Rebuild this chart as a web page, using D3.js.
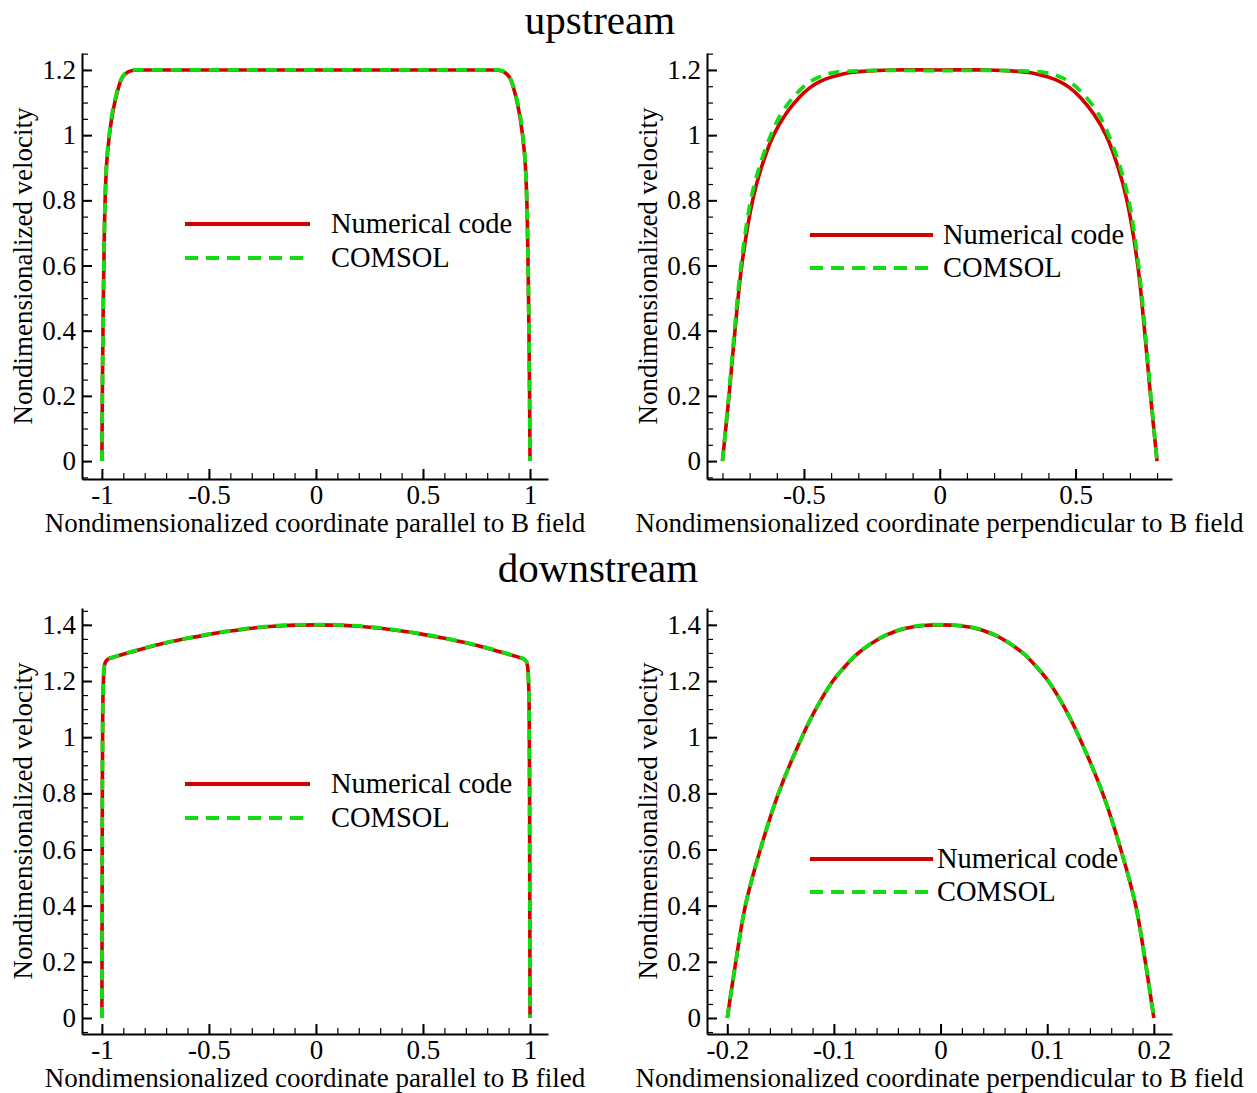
<!DOCTYPE html>
<html>
<head>
<meta charset="utf-8">
<script src="https://cdn.jsdelivr.net/npm/d3@7"></script>
<style>
    body { margin: 0; background: #fff; }
    svg text { font-family: "Liberation Serif", "Times New Roman", serif; fill: #000; }
</style>
</head>
<body>
<svg id="chart" width="1257" height="1093"></svg>
<script>
// upstream, coordinate parallel to B field  [x, velocity]
var upParNumerical = [
    [-1, 0], [-0.998, 0.2], [-0.995, 0.4], [-0.991, 0.6], [-0.985, 0.8], [-0.977, 0.92],
    [-0.965, 1.0], [-0.952, 1.06], [-0.94, 1.1], [-0.925, 1.14], [-0.91, 1.17], [-0.895, 1.185],
    [-0.875, 1.195], [-0.85, 1.199], [-0.8, 1.2], [-0.5, 1.2], [0, 1.2], [0.5, 1.2],
    [0.8, 1.2], [0.85, 1.199], [0.875, 1.195], [0.895, 1.185], [0.91, 1.17], [0.925, 1.14],
    [0.94, 1.1], [0.952, 1.06], [0.965, 1.0], [0.977, 0.92], [0.985, 0.8], [0.991, 0.6],
    [0.995, 0.4], [0.998, 0.2], [1, 0]
]
var upParComsol = [
    [-1, 0], [-0.998, 0.2], [-0.995, 0.4], [-0.991, 0.6], [-0.985, 0.8], [-0.977, 0.925],
    [-0.966, 1.0], [-0.953, 1.065], [-0.94, 1.105], [-0.925, 1.145], [-0.91, 1.172], [-0.895, 1.187],
    [-0.875, 1.196], [-0.85, 1.2], [-0.8, 1.2], [-0.5, 1.2], [0, 1.2], [0.5, 1.2],
    [0.8, 1.2], [0.85, 1.2], [0.875, 1.196], [0.895, 1.187], [0.91, 1.172], [0.925, 1.145],
    [0.94, 1.105], [0.953, 1.065], [0.966, 1.0], [0.977, 0.925], [0.985, 0.8], [0.991, 0.6],
    [0.995, 0.4], [0.998, 0.2], [1, 0]
]

// upstream, coordinate perpendicular to B field
var upPerpNumerical = [
    [-0.8, 0], [-0.776, 0.2], [-0.754, 0.4], [-0.729, 0.6], [-0.689, 0.8], [-0.657, 0.9],
    [-0.612, 1.0], [-0.565, 1.067], [-0.516, 1.117], [-0.479, 1.145], [-0.44, 1.165], [-0.4, 1.178],
    [-0.36, 1.187], [-0.32, 1.193], [-0.28, 1.196], [-0.24, 1.198], [-0.18, 1.2], [0, 1.2],
    [0.18, 1.2], [0.24, 1.198], [0.28, 1.196], [0.32, 1.193], [0.36, 1.187], [0.4, 1.178],
    [0.44, 1.165], [0.479, 1.145], [0.516, 1.117], [0.565, 1.067], [0.612, 1.0], [0.657, 0.9],
    [0.689, 0.8], [0.729, 0.6], [0.754, 0.4], [0.776, 0.2], [0.8, 0]
]
var upPerpComsol = [
    [-0.8, 0], [-0.777, 0.2], [-0.756, 0.4], [-0.732, 0.6], [-0.696, 0.8], [-0.665, 0.9],
    [-0.622, 1.0], [-0.583, 1.067], [-0.53, 1.125], [-0.479, 1.163], [-0.43, 1.183], [-0.39, 1.192],
    [-0.3, 1.197], [-0.2, 1.199], [0, 1.198], [0.2, 1.199], [0.3, 1.197], [0.39, 1.192],
    [0.43, 1.183], [0.479, 1.163], [0.53, 1.125], [0.583, 1.067], [0.622, 1.0], [0.665, 0.9],
    [0.696, 0.8], [0.732, 0.6], [0.756, 0.4], [0.777, 0.2], [0.8, 0]
]

// downstream, coordinate parallel to B field
var downParNumerical = [
    [-1, 0], [-0.999, 0.4], [-0.998, 0.8], [-0.996, 1.1], [-0.993, 1.2], [-0.989, 1.25],
    [-0.983, 1.268], [-0.97, 1.278], [-0.95, 1.284], [-0.9, 1.295], [-0.8, 1.317], [-0.7, 1.336],
    [-0.6, 1.352], [-0.5, 1.366], [-0.4, 1.378], [-0.3, 1.388], [-0.2, 1.395], [-0.1, 1.399],
    [0, 1.4], [0.1, 1.399], [0.2, 1.395], [0.3, 1.388], [0.4, 1.378], [0.5, 1.366],
    [0.6, 1.352], [0.7, 1.336], [0.8, 1.317], [0.9, 1.295], [0.95, 1.284], [0.97, 1.278],
    [0.983, 1.268], [0.989, 1.25], [0.993, 1.2], [0.996, 1.1], [0.998, 0.8], [0.999, 0.4], [1, 0]
]
var downParComsol = [
    [-1, 0], [-0.999, 0.4], [-0.998, 0.8], [-0.996, 1.1], [-0.993, 1.2], [-0.989, 1.252],
    [-0.983, 1.27], [-0.97, 1.279], [-0.95, 1.285], [-0.9, 1.296], [-0.8, 1.318], [-0.7, 1.337],
    [-0.6, 1.353], [-0.5, 1.367], [-0.4, 1.379], [-0.3, 1.389], [-0.2, 1.396], [-0.1, 1.4],
    [0, 1.401], [0.1, 1.4], [0.2, 1.396], [0.3, 1.389], [0.4, 1.379], [0.5, 1.367],
    [0.6, 1.353], [0.7, 1.337], [0.8, 1.318], [0.9, 1.296], [0.95, 1.285], [0.97, 1.279],
    [0.983, 1.27], [0.989, 1.252], [0.993, 1.2], [0.996, 1.1], [0.998, 0.8], [0.999, 0.4], [1, 0]
]

// downstream, coordinate perpendicular to B field
var downPerpNumerical = [
    [-0.2, 0], [-0.192, 0.2], [-0.183, 0.4], [-0.169, 0.6], [-0.152, 0.8], [-0.13, 1.0],
    [-0.117, 1.1], [-0.101, 1.2], [-0.09, 1.25], [-0.08, 1.29], [-0.07, 1.32], [-0.06, 1.345],
    [-0.05, 1.365], [-0.04, 1.38], [-0.03, 1.39], [-0.02, 1.396], [-0.01, 1.399], [0, 1.4],
    [0.01, 1.399], [0.02, 1.396], [0.03, 1.39], [0.04, 1.38], [0.05, 1.365], [0.06, 1.345],
    [0.07, 1.32], [0.08, 1.29], [0.09, 1.25], [0.101, 1.2], [0.117, 1.1], [0.13, 1.0],
    [0.152, 0.8], [0.169, 0.6], [0.183, 0.4], [0.192, 0.2], [0.2, 0]
]
var downPerpComsol = [
    [-0.2, 0], [-0.192, 0.2], [-0.183, 0.4], [-0.169, 0.6], [-0.152, 0.8], [-0.13, 1.0],
    [-0.117, 1.1], [-0.101, 1.2], [-0.09, 1.251], [-0.08, 1.291], [-0.07, 1.321], [-0.06, 1.346],
    [-0.05, 1.366], [-0.04, 1.381], [-0.03, 1.391], [-0.02, 1.397], [-0.01, 1.4], [0, 1.401],
    [0.01, 1.4], [0.02, 1.397], [0.03, 1.391], [0.04, 1.381], [0.05, 1.366], [0.06, 1.346],
    [0.07, 1.321], [0.08, 1.291], [0.09, 1.251], [0.101, 1.2], [0.117, 1.1], [0.13, 1.0],
    [0.152, 0.8], [0.169, 0.6], [0.183, 0.4], [0.192, 0.2], [0.2, 0]
]

// tick labels
var parXTicks = [-1, -0.5, 0, 0.5, 1]
var upPerpXTicks = [-0.5, 0, 0.5]
var downPerpXTicks = [-0.2, -0.1, 0, 0.1, 0.2]
var upYTicks = [0, 0.2, 0.4, 0.6, 0.8, 1, 1.2]
var downYTicks = [0, 0.2, 0.4, 0.6, 0.8, 1, 1.2, 1.4]

var seriesNames = ["Numerical code", "COMSOL"]
var redColor = "#d40000"
var greenColor = "#11dd11"

var svg = d3.select("#chart")

svg.append("text")
    .attr("x", 600).attr("y", 34)
    .attr("text-anchor", "middle")
    .style("font-size", "41px")
    .text("upstream")

svg.append("text")
    .attr("x", 598).attr("y", 582)
    .attr("text-anchor", "middle")
    .style("font-size", "41px")
    .text("downstream")

drawPanel({
    left: 82, right: 548, top: 53, bottom: 479,
    xDomain: [-1.093, 1.084], yDomain: [-0.055, 1.252],
    xTicks: parXTicks, yTicks: upYTicks, xMinor: 0.1, yMinor: 0.05,
    xTitle: "Nondimensionalized coordinate parallel to B field",
    numerical: upParNumerical, comsol: upParComsol,
    legend: { x1: 185, x2: 310, tx: 331, y: 224, gap: 34 }
})

drawPanel({
    left: 707, right: 1172, top: 53, bottom: 479,
    xDomain: [-0.857, 0.855], yDomain: [-0.055, 1.252],
    xTicks: upPerpXTicks, yTicks: upYTicks, xMinor: 0.1, yMinor: 0.05,
    xTitle: "Nondimensionalized coordinate perpendicular to B field",
    numerical: upPerpNumerical, comsol: upPerpComsol,
    legend: { x1: 810, x2: 933, tx: 943, y: 235, gap: 33 }
})

drawPanel({
    left: 82, right: 548, top: 608, bottom: 1034,
    xDomain: [-1.093, 1.084], yDomain: [-0.057, 1.46],
    xTicks: parXTicks, yTicks: downYTicks, xMinor: 0.1, yMinor: 0.05,
    xTitle: "Nondimensionalized coordinate parallel to B filed",
    numerical: downParNumerical, comsol: downParComsol,
    legend: { x1: 185, x2: 310, tx: 331, y: 784, gap: 34 }
})

drawPanel({
    left: 707, right: 1172, top: 608, bottom: 1034,
    xDomain: [-0.219, 0.217], yDomain: [-0.057, 1.46],
    xTicks: downPerpXTicks, yTicks: downYTicks, xMinor: 0.02, yMinor: 0.05,
    xTitle: "Nondimensionalized coordinate perpendicular to B field",
    numerical: downPerpNumerical, comsol: downPerpComsol,
    legend: { x1: 810, x2: 933, tx: 937, y: 859, gap: 33 }
})

function minorTicks(domain, step) {
    var first = Math.ceil(domain[0] / step - 1e-9)
    var last = Math.floor(domain[1] / step + 1e-9)
    return d3.range(first, last + 1).map(function (i) { return +(i * step).toFixed(4) })
}

function drawPanel(p) {
    var x = d3.scaleLinear().domain(p.xDomain).range([p.left, p.right])
    var y = d3.scaleLinear().domain(p.yDomain).range([p.bottom, p.top])
    var g = svg.append("g")

    // minor ticks first, majors over them
    g.append("g")
        .attr("transform", "translate(0," + p.bottom + ")")
        .call(d3.axisBottom(x).tickValues(minorTicks(p.xDomain, p.xMinor)).tickSize(-6).tickFormat(""))
        .call(function (a) { a.select(".domain").remove() })
        .selectAll("line").attr("stroke-width", 1.2)

    g.append("g")
        .attr("transform", "translate(" + p.left + ",0)")
        .call(d3.axisLeft(y).tickValues(minorTicks(p.yDomain, p.yMinor)).tickSize(-6).tickFormat(""))
        .call(function (a) { a.select(".domain").remove() })
        .selectAll("line").attr("stroke-width", 1.2)

    var xAxis = g.append("g")
        .attr("transform", "translate(0," + p.bottom + ")")
        .call(d3.axisBottom(x).tickValues(p.xTicks).tickSize(-10).tickSizeOuter(0).tickPadding(6)
            .tickFormat(function (d) { return String(d) }))

    var yAxis = g.append("g")
        .attr("transform", "translate(" + p.left + ",0)")
        .call(d3.axisLeft(y).tickValues(p.yTicks).tickSize(-10).tickSizeOuter(0).tickPadding(6)
            .tickFormat(function (d) { return String(d) }))

    ;[xAxis, yAxis].forEach(function (a) {
        a.select(".domain").attr("stroke-width", 2).attr("stroke", "#000")
        a.selectAll("line").attr("stroke-width", 2).attr("stroke", "#000")
        a.selectAll("text")
            .style("font-size", "27px")
            .style("font-family", "'Liberation Serif', 'Times New Roman', serif")
            .attr("fill", "#000")
    })

    g.append("text")
        .attr("x", (p.left + p.right) / 2)
        .attr("y", p.bottom + 53)
        .attr("text-anchor", "middle")
        .style("font-size", "27px")
        .text(p.xTitle)

    g.append("text")
        .attr("transform", "translate(" + (p.left - 50) + "," + ((p.top + p.bottom) / 2) + ") rotate(-90)")
        .attr("text-anchor", "middle")
        .style("font-size", "27px")
        .text("Nondimensionalized velocity")

    var line = d3.line()
        .x(function (d) { return x(d[0]) })
        .y(function (d) { return y(d[1]) })
        .curve(d3.curveCatmullRom.alpha(0.5))

    g.append("path")
        .datum(p.numerical)
        .attr("d", line)
        .attr("fill", "none")
        .attr("stroke", redColor)
        .attr("stroke-width", 3.6)

    g.append("path")
        .datum(p.comsol)
        .attr("d", line)
        .attr("fill", "none")
        .attr("stroke", greenColor)
        .attr("stroke-width", 3.8)
        .attr("stroke-dasharray", "11,8")

    // legend
    var leg = p.legend
    seriesNames.forEach(function (name, i) {
        var ly = leg.y + i * leg.gap
        g.append("line")
            .attr("x1", leg.x1).attr("x2", leg.x2)
            .attr("y1", ly).attr("y2", ly)
            .attr("stroke", i == 0 ? redColor : greenColor)
            .attr("stroke-width", 4)
            .attr("stroke-dasharray", i == 0 ? null : "13,8")
        g.append("text")
            .attr("x", leg.tx)
            .attr("y", ly + 9)
            .style("font-size", "28.5px")
            .text(name)
    })
}
</script>
</body>
</html>
